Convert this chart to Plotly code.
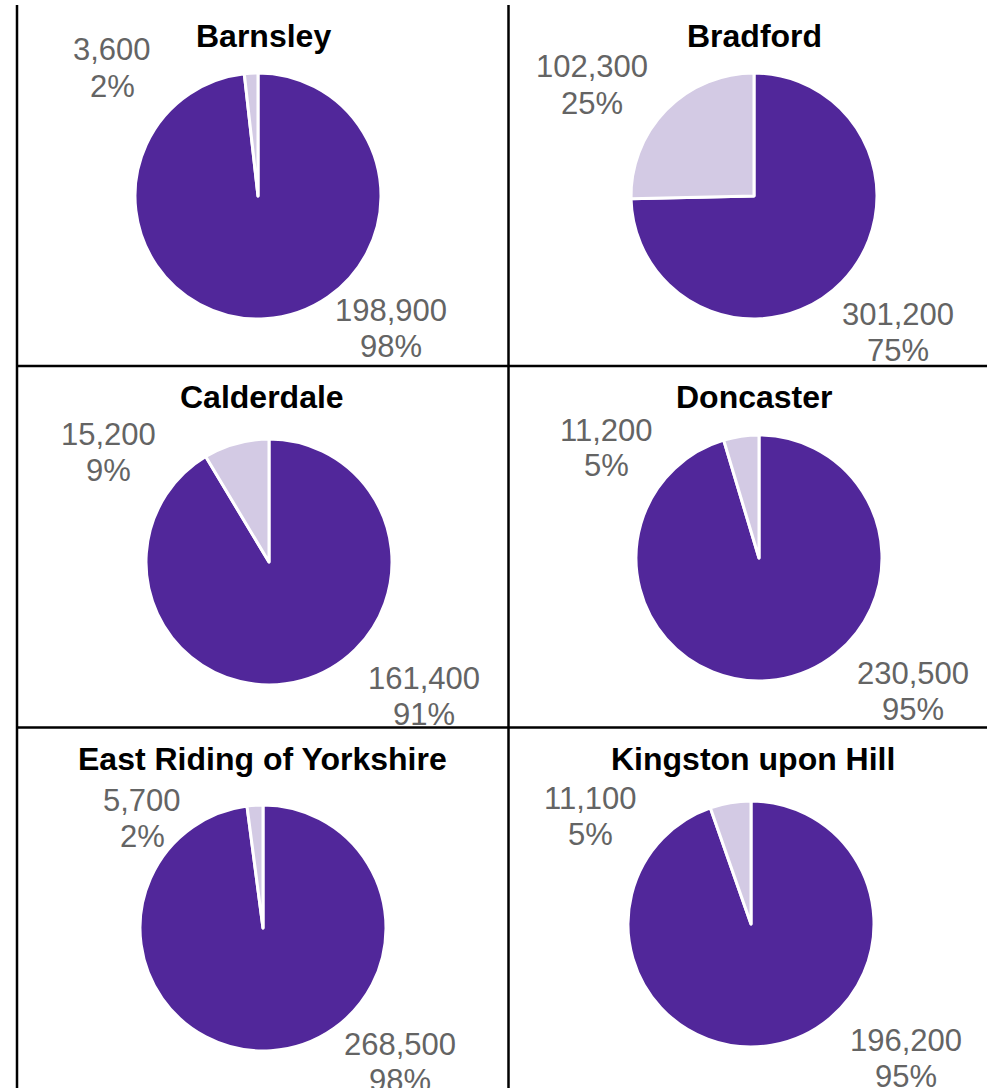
import plotly.graph_objects as go

# Population split per local authority: main group vs. other group
areas = ["Barnsley", "Bradford", "Calderdale", "Doncaster",
         "East Riding of Yorkshire", "Kingston upon Hill"]
main_group = [198900, 301200, 161400, 230500, 268500, 196200]
other_group = [3600, 102300, 15200, 11200, 5700, 11100]

# Page geometry (pixels)
W, H = 987, 1088
centers = [(258, 196), (754, 196), (269, 562), (759, 558), (263, 928), (751, 924)]
radius = 123
title_pos = [(263, 36), (754, 36), (262, 397), (754, 397), (262, 759), (753, 759)]
# centre of the two-line label block (count on top, share below)
other_label_pos = [(112, 68), (592, 85), (108, 452), (606, 448), (142, 818), (590, 816)]
main_label_pos = [(391, 328), (898, 332), (424, 696), (913, 691), (400, 1062), (906, 1058)]
LINE_GAP = 36

DARK = "#51279a"
LIGHT = "#d3cae4"
LABEL_GREY = "#646464"
FONT = "Liberation Sans, Arial, sans-serif"


def px(x):
    return x / W


def py(y):
    return 1 - y / H


fig = go.Figure()
annotations = []


def add_text(x, y, text, size, color):
    annotations.append(dict(
        x=px(x), y=py(y), xref="paper", yref="paper", showarrow=False,
        text=text, font=dict(family=FONT, size=size, color=color),
        xanchor="center", yanchor="middle", align="center"))


for i, name in enumerate(areas):
    cx, cy = centers[i]
    fig.add_trace(go.Pie(
        values=[main_group[i], other_group[i]],
        labels=["Main", "Other"],
        marker=dict(colors=[DARK, LIGHT], line=dict(color="white", width=3)),
        sort=False,
        direction="clockwise",
        rotation=0,
        textinfo="none",
        hoverinfo="label+value+percent",
        domain=dict(x=[px(cx - radius), px(cx + radius)],
                    y=[py(cy + radius), py(cy - radius)]),
        showlegend=False,
    ))
    total = main_group[i] + other_group[i]
    tx, ty = title_pos[i]
    add_text(tx, ty, f"<b>{name}</b>", 32, "black")
    for val, (lx, ly) in ((other_group[i], other_label_pos[i]),
                          (main_group[i], main_label_pos[i])):
        add_text(lx, ly - LINE_GAP / 2, f"{val:,}", 31, LABEL_GREY)
        add_text(lx, ly + LINE_GAP / 2, f"{round(100 * val / total)}%", 31, LABEL_GREY)

# Table-style grid lines between the panels
grid = [
    (17, 5, 17, H + 5),
    (508.5, 5, 508.5, H + 5),
    (17, 366, W + 5, 366),
    (17, 727.5, W + 5, 727.5),
]
shapes = [dict(type="line", xref="paper", yref="paper",
               x0=px(x0), y0=py(y0), x1=px(x1), y1=py(y1),
               line=dict(color="black", width=2.5)) for x0, y0, x1, y1 in grid]

fig.update_layout(
    width=W, height=H,
    margin=dict(l=0, r=0, t=0, b=0),
    paper_bgcolor="white", plot_bgcolor="white",
    annotations=annotations, shapes=shapes,
)

fig.write_html("out.html")
